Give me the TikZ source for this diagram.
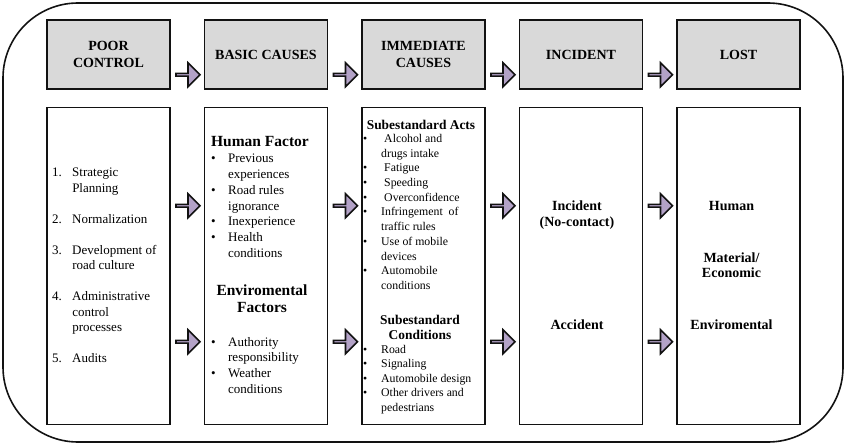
\documentclass[tikz,border=0pt]{standalone}
\usepackage{fontspec}
\setmainfont{Liberation Serif}
\usepackage{xcolor}
\usepackage{tikz}
\usetikzlibrary{positioning,calc,shapes.arrows}
\definecolor{acgray}{HTML}{D9D9D9}
\definecolor{aclilac}{HTML}{B3A2C7}
\definecolor{acink}{HTML}{121212}

\begin{document}
\begin{tikzpicture}[x=1pt,y=-1pt,
    hdbox/.style={draw=acink,line width=1.5pt,fill=acgray,minimum width=123pt,minimum height=69pt,align=center,font=\fontsize{14}{17}\selectfont\bfseries},
    bodybox/.style={draw=acink,line width=1.5pt,fill=white,minimum width=123pt,minimum height=317pt},
    flowarrow/.style={single arrow,draw=acink,line width=1.6pt,fill=aclilac,minimum height=24pt,minimum width=24pt,single arrow head extend=6pt,inner sep=0pt},
    listtext/.style={anchor=base west,inner sep=0pt},
    headtext/.style={anchor=base,inner sep=0pt}]
  \useasboundingbox (0,0) rectangle (846,446);
  \draw[draw=acink,line width=1.6pt,rounded corners=75pt] (3,3) rectangle (843,442);

  % stage headers
  \node[hdbox] (hdcontrol) at (108.5,54.5) {POOR\\CONTROL};
  \node[hdbox,right=33pt of hdcontrol] (hdbasic) {BASIC CAUSES};
  \node[hdbox,right=33pt of hdbasic] (hdimmediate) {IMMEDIATE\\CAUSES};
  \node[hdbox,right=33pt of hdimmediate] (hdincident) {INCIDENT};
  \node[hdbox,right=33pt of hdincident] (hdlost) {LOST};

  % stage contents
  \node[bodybox,below=17pt of hdcontrol] (bxcontrol) {};
  \node[bodybox,below=17pt of hdbasic] (bxbasic) {};
  \node[bodybox,below=17pt of hdimmediate] (bximmediate) {};
  \node[bodybox,below=17pt of hdincident] (bxincident) {};
  \node[bodybox,below=17pt of hdlost] (bxlost) {};

  \foreach \a/\b in {control/basic,basic/immediate,immediate/incident,incident/lost}{
    \node[flowarrow] (up\a) at ($(hd\a.south east)!0.5!(hd\b.south west)+(0pt,15pt)$) {};
    \node[flowarrow] (mid\a) at ($(bx\a.north east)!0.5!(bx\b.north west)-(0pt,99pt)$) {};
    \node[flowarrow] (low\a) at ($(bx\a.north east)!0.5!(bx\b.north west)-(0pt,235pt)$) {};
  }

  % poor control
  \node[listtext,font=\fontsize{13}{15.5}\selectfont] (pclist) at (52,177) {%
    \begin{tabular}[t]{@{}l@{\hspace{10.3pt}}l@{}}
      1. & Strategic\\
         & Planning\\[15.5pt]
      2. & Normalization\\[15.5pt]
      3. & Development of\\
         & road culture\\[15.5pt]
      4. & Administrative\\
         & control\\
         & processes\\[15.5pt]
      5. & Audits
    \end{tabular}};

  % basic causes
  \node[headtext,font=\fontsize{15.5}{17}\selectfont\bfseries] (hfhead) at (260,147) {Human Factor};
  \node[listtext,font=\fontsize{13}{15.7}\selectfont] (hflist) at (211,163) {%
    \begin{tabular}[t]{@{}l@{\hspace{12.4pt}}l@{}}
      \textbullet & Previous\\
                  & experiences\\
      \textbullet & Road rules\\
                  & ignorance\\
      \textbullet & Inexperience\\
      \textbullet & Health\\
                  & conditions
    \end{tabular}};
  \node[headtext,font=\fontsize{15.5}{17}\selectfont\bfseries] (efhead) at (262,296) {%
    \begin{tabular}[t]{@{}c@{}}Enviromental\\Factors\end{tabular}};
  \node[listtext,font=\fontsize{13}{15.7}\selectfont] (eflist) at (211,346) {%
    \begin{tabular}[t]{@{}l@{\hspace{12.4pt}}l@{}}
      \textbullet & Authority\\
                  & responsibility\\
      \textbullet & Weather\\
                  & conditions
    \end{tabular}};

  % immediate causes
  \node[headtext,font=\fontsize{13.4}{15}\selectfont\bfseries] (sahead) at (421,129.5) {Subestandard Acts};
  \node[listtext,font=\fontsize{11.8}{14.7}\selectfont] (salist) at (363,142.5) {%
    \begin{tabular}[t]{@{}l@{\hspace{13.9pt}}l@{}}
      \textbullet & \hspace{3pt}Alcohol and\\
                  & drugs intake\\
      \textbullet & \hspace{3pt}Fatigue\\
      \textbullet & \hspace{3pt}Speeding\\
      \textbullet & \hspace{3pt}Overconfidence\\
      \textbullet & Infringement\ \ of\\
                  & traffic rules\\
      \textbullet & Use of mobile\\
                  & devices\\
      \textbullet & Automobile\\
                  & conditions
    \end{tabular}};
  \node[headtext,font=\fontsize{13.4}{15}\selectfont\bfseries] (schead) at (420,324.5) {%
    \begin{tabular}[t]{@{}c@{}}Subestandard\\Conditions\end{tabular}};
  \node[listtext,font=\fontsize{11.8}{14.5}\selectfont] (sclist) at (363,353) {%
    \begin{tabular}[t]{@{}l@{\hspace{13.9pt}}l@{}}
      \textbullet & Road\\
      \textbullet & Signaling\\
      \textbullet & Automobile design\\
      \textbullet & Other drivers and\\
                  & pedestrians
    \end{tabular}};

  % incident
  \node[headtext,font=\fontsize{14}{16}\selectfont\bfseries] (incnear) at (577,211) {%
    \begin{tabular}[t]{@{}c@{}}Incident\\(No-contact)\end{tabular}};
  \node[headtext,font=\fontsize{14}{16}\selectfont\bfseries] (incacc) at (577,330) {Accident};

  % lost
  \node[headtext,font=\fontsize{14}{15}\selectfont\bfseries] (lohuman) at (731.5,211) {Human};
  \node[headtext,font=\fontsize{14}{15}\selectfont\bfseries] (lomaterial) at (731.5,263) {%
    \begin{tabular}[t]{@{}c@{}}Material/\\Economic\end{tabular}};
  \node[headtext,font=\fontsize{14}{15}\selectfont\bfseries] (loenv) at (731.5,330) {Enviromental};
\end{tikzpicture}
\end{document}
